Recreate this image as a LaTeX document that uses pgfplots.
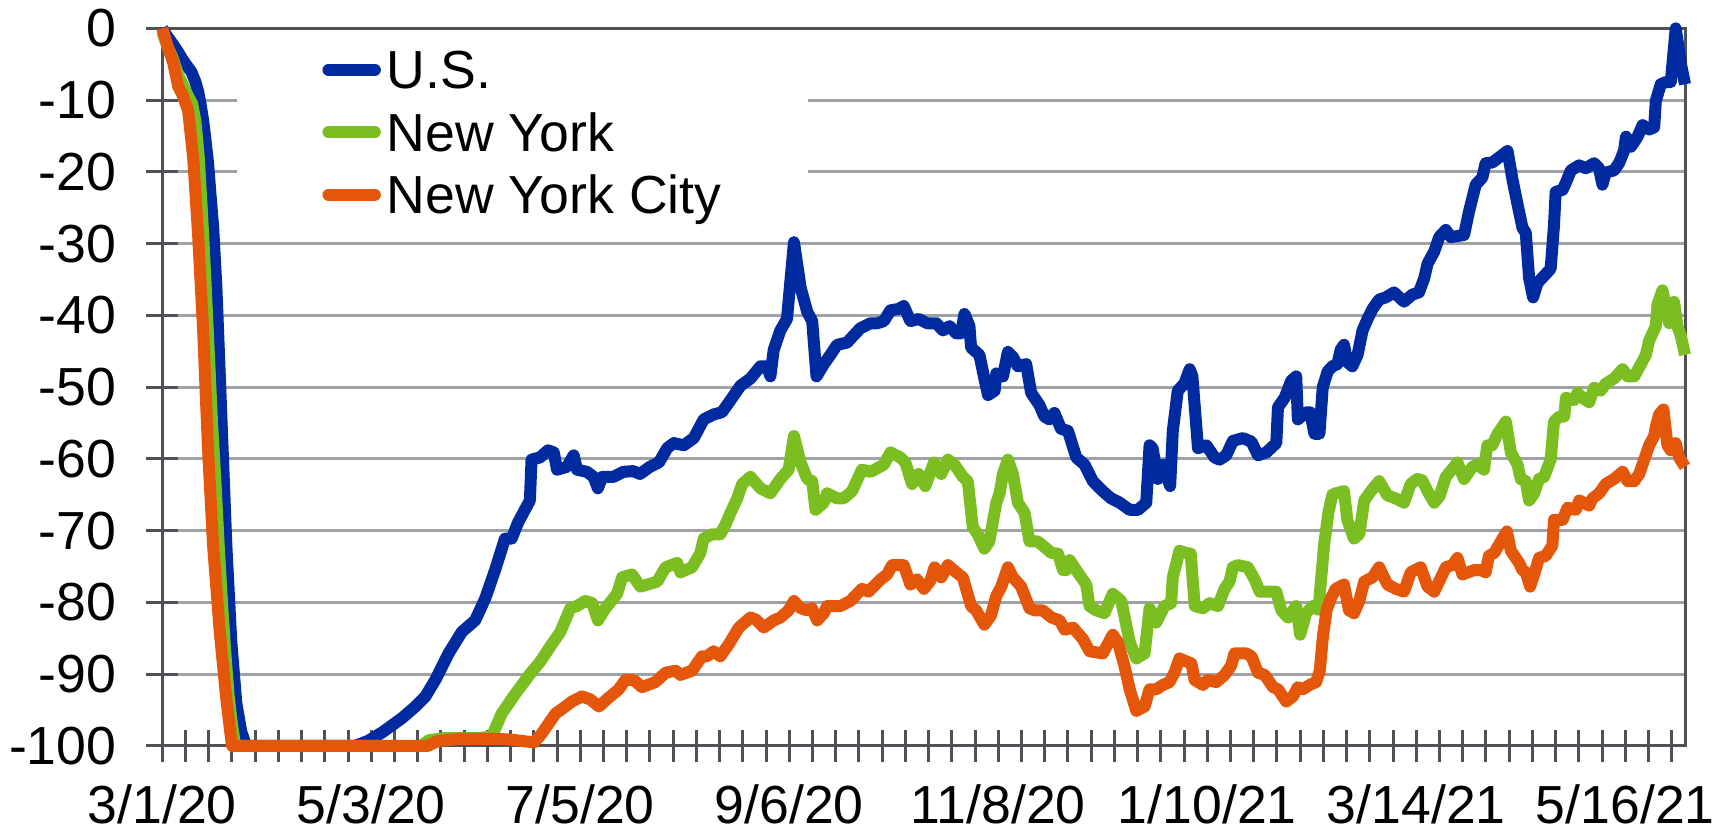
\documentclass[border=0pt]{standalone}
\usepackage{pgfplots}
\usepackage{pgfplotstable}
\pgfplotsset{compat=1.18}
\usepackage{fontspec}
\setmainfont{Liberation Sans}
\definecolor{usblue}{RGB}{0,42,160}
\definecolor{nygreen}{RGB}{122,190,34}
\definecolor{nycorange}{RGB}{228,87,10}
\definecolor{axisgray}{RGB}{78,82,86}
\definecolor{gridgray}{RGB}{158,162,166}

\pgfplotstableread{
d v
0 0
1 -0.8
3 -2.1
5 -3.5
6.3 -4.5
8 -5.6
8.8 -6.1
10 -7.5
10.8 -8.8
11.5 -10.5
12.3 -12.8
13 -15.5
13.8 -18.8
14.5 -23
15.3 -27.5
16.3 -36
17.3 -48
18.3 -60
19.3 -72
20.8 -85.5
22.3 -94
23.8 -98
25.3 -100
58 -100
62 -99.3
66.3 -98.1
72.3 -96.1
76.3 -94.5
79.3 -93.1
82.3 -90.8
86.3 -87.1
90.3 -84.1
94.3 -82.5
97.3 -79.5
100.3 -75.5
103.3 -71.1
105.3 -71.1
107.3 -68.8
110.8 -65.8
111.3 -60.1
113.8 -59.8
116.3 -58.8
118 -59.1
119 -61.5
122 -61.1
124 -59.5
125 -61.5
128 -61.8
130 -62.5
131.3 -64.1
132.6 -62.5
136 -62.5
139 -61.8
142 -61.7
144 -62.1
147 -61.1
149.7 -60.5
152.2 -58.5
154.2 -57.8
157.2 -58.1
160.2 -57.1
163.2 -54.5
166.2 -53.8
168.7 -53.5
171.3 -51.8
174.3 -49.8
177.3 -48.8
180.3 -47.1
182.3 -47.1
183.3 -48.5
184.3 -44.8
186.3 -42.1
188.3 -40.5
190.4 -29.8
192.4 -36.1
194.4 -39.5
195.9 -40.8
197.2 -48.5
199.4 -46.8
201.4 -45.5
203.4 -44.1
206.4 -43.8
208.4 -42.8
210.4 -41.8
213.5 -41.1
215.5 -41.1
217.5 -40.8
219.5 -39.3
222 -39.1
223.5 -38.7
225.5 -40.8
228 -40.5
230.6 -41.1
233.3 -41.1
235.3 -42.1
237.3 -41.5
239.3 -42.5
240.8 -42.5
241.8 -39.8
243.3 -41.5
243.8 -44.5
246.3 -45.5
247.8 -48.8
248.9 -51.1
250.9 -50.5
251.4 -48.1
253.4 -48.5
254.9 -45.1
256.4 -45.8
257.9 -47.1
260.4 -46.8
261.9 -50.8
264.4 -52.5
265.9 -54.1
267.4 -54.5
268.9 -53.6
270.9 -55.8
273 -56.1
275.5 -59.8
278 -60.8
280.5 -63.1
283.5 -64.5
286 -65.5
288.6 -66.1
291.6 -67.1
294.1 -67.1
296.6 -66.1
297.6 -58.1
298.5 -58.5
300.1 -62.8
301.6 -60.8
303.8 -63.8
304.6 -56.1
306.1 -50.5
308.1 -49.5
309.7 -47.5
310.5 -48.5
312.2 -58.5
314.7 -58.1
317.2 -59.8
318.7 -60.1
320.7 -59.5
322.7 -57.5
325.7 -57.1
328.3 -57.6
330.3 -59.5
332.8 -59.1
335.8 -57.8
336.3 -52.8
338.3 -51.5
340.3 -49.1
341.8 -48.5
342.3 -54.5
344.8 -53.5
346 -53.5
347.3 -56.5
348.8 -56.5
349.8 -50
351.3 -47.8
352.7 -47.1
354.2 -46.8
355.2 -44.8
356.2 -44.1
357.2 -46.5
358.7 -47.1
360.3 -45.5
361.8 -42.1
363.3 -40.5
364.8 -39.1
366.8 -37.8
368.8 -37.5
371.3 -36.8
374.3 -38.1
376.8 -37.1
378.8 -36.8
380.4 -34.8
381.4 -32.8
383.4 -31.1
384.9 -29.1
386.9 -28.1
388.4 -29.1
392.4 -28.8
393.9 -25.5
395.9 -21.8
397.9 -20.8
398.9 -18.8
400.9 -18.7
403.5 -17.8
405.5 -17.1
407 -21.1
408.5 -24.5
410 -27.8
411 -28.5
412 -34.8
413.2 -37.5
414.5 -35.5
416.5 -34.5
418.5 -33.5
419.5 -27.5
420 -22.8
422.1 -22.5
423.1 -21.5
424.6 -19.8
427.1 -19.1
429.1 -19.5
431.6 -18.8
433.1 -19.5
434.1 -21.8
435.1 -20.1
437.6 -19.8
439.1 -18.8
440.6 -17.1
441.2 -15.1
442.7 -16.5
444.7 -15.1
446.2 -13.5
448.2 -14.1
449.7 -13.8
450.2 -10.1
451.7 -7.8
453.2 -7.5
454.7 -7.5
456.2 0
457.7 -4.8
459 -7.8
}\usdata

\pgfplotstableread{
d v
0 -0.5
1.5 -2.5
3 -4
4.8 -6.5
6.3 -8
7.8 -9.5
9 -10.5
10 -13
11 -18
12 -26
13 -35
14 -45
15 -55
16 -63
17 -72
18 -80
19 -87
20 -93
21 -97
22 -100
78 -100
80.3 -99.2
85 -98.9
95 -98.9
99.3 -98.7
102.3 -95.5
106.3 -92.8
110.8 -90
114 -88.2
117 -86.1
120 -84.1
123 -80.8
125 -80.5
127.5 -79.8
129.6 -80.1
131.3 -82.5
133.6 -80.8
137.1 -78.8
138.6 -76.5
141.6 -76.1
144.1 -77.8
149.2 -77.1
151.7 -75.1
155.2 -74.5
156.2 -75.8
159.7 -75.1
162.2 -73.1
163.2 -71.1
165.7 -70.5
168.2 -70.5
169.8 -69.1
171.3 -67.5
173.3 -65.5
174.8 -63.5
177.3 -62.5
180.3 -64.1
183.3 -64.8
184.8 -63.8
186.3 -62.8
188.8 -61.5
190.4 -56.8
192.4 -60.5
194.4 -62.8
195.9 -63.1
196.9 -67.1
199.4 -66.1
200.4 -64.8
203.4 -65.5
205.4 -65.5
207.9 -64.5
210.9 -61.5
213.5 -61.8
217.5 -60.8
219.5 -59.1
222.5 -59.8
224 -60.5
226 -63.5
228 -62.1
230 -63.8
232.6 -60.5
234.8 -62.1
236.8 -60.1
238.8 -60.8
241.3 -62.5
242.8 -63.1
244.3 -69.5
245.8 -70.5
247.8 -72.5
249.3 -71.5
251.4 -66.1
252.4 -64.8
253.4 -62.1
254.9 -60.1
256.4 -62.1
257.9 -66.1
259.9 -67.5
261.4 -71.5
263.9 -71.5
266.5 -72.5
268 -73.1
270 -73.2
271.5 -75.5
272.5 -75.5
273.5 -74.1
275.5 -75.5
278.5 -77.5
279.5 -80.5
281.5 -81.1
284 -81.5
286.5 -78.8
289.1 -79.8
291.6 -85.5
293.6 -87.8
296.1 -87.1
297.6 -80.8
299.6 -82.8
302.1 -80.5
304.1 -80.1
304.6 -76.5
306.6 -72.8
308.6 -73.1
310 -73.2
311.2 -80.5
313.7 -80.8
315.7 -80.1
318.2 -80.5
320.2 -78.1
321.7 -77.1
322.7 -75.1
324.2 -74.8
327.2 -75.1
329.3 -76.8
330.8 -78.5
333.8 -78.5
335.8 -78.5
337.3 -81.1
339.3 -82.1
341.8 -80.5
343 -84.5
344.8 -81.5
346.8 -80.5
348.5 -81
350.2 -72
351.5 -67.5
352.7 -65
353.7 -64.8
356.2 -64.5
357.2 -68.5
359.2 -71.1
360.8 -70.5
362.3 -65.8
364.3 -64.5
366.8 -63.1
369.3 -65.1
371.8 -65.5
374.3 -66.1
376.3 -63.5
378.3 -62.8
379.8 -63
381.4 -64.5
383.4 -66.1
385 -65.2
386.9 -62.5
389.4 -61.1
390.4 -60.5
392.4 -62.8
394.9 -61.1
396.4 -60.8
398.4 -61.5
399.4 -58.1
400.9 -58.1
402.5 -56.5
404 -55.5
405 -54.8
406.5 -59.1
408.5 -60.8
409.5 -62.8
411 -63.1
412 -65.8
413.5 -64.8
415 -62.8
416.5 -62.5
418.5 -60.1
419.5 -54.8
421.1 -54.1
422.6 -54.1
423.1 -51.5
425.6 -51.8
426.6 -50.8
428.1 -51.5
430.1 -52.1
431.6 -50.1
433.6 -50.5
435.1 -49.5
437.6 -48.8
440.2 -47.5
441.7 -48.5
443.7 -48.5
445.7 -46.8
447.2 -45.5
448.2 -43.5
450.2 -41.5
450.7 -38.5
452.2 -36.5
453.2 -38.8
454.2 -41.1
455.7 -38.1
456.7 -41.5
457.7 -42.8
459 -45.5
}\nydata

\pgfplotstableread{
d v
0 0
1.8 -2.8
3.3 -4.8
4.8 -8.1
6.3 -9.5
7.8 -11.5
9.3 -18
10.8 -28.8
12.3 -42
13.8 -58.8
15.3 -72
17.3 -84
19.3 -93.5
21 -100
80 -100
83 -99.3
90 -99
100 -99
105 -99.1
112 -99.5
114 -98.5
116 -97.2
118.5 -95.5
121.5 -94.5
123.5 -93.8
126.5 -93.1
129 -93.5
131.6 -94.5
134 -93.5
137.6 -92.1
139.6 -90.8
142.1 -90.8
144.6 -91.8
148.6 -91.1
151.7 -89.8
154.7 -89.5
156.2 -90.1
159.7 -89.5
162.7 -87.5
164.2 -87.5
166.2 -86.8
168.2 -87.5
170.8 -85.8
173.8 -83.5
177.3 -82.1
179 -82.4
181.3 -83.5
184.3 -82.5
186.3 -82.1
188.8 -81.1
190.4 -79.8
192.4 -80.8
194.4 -81.1
195.8 -80.8
197.4 -82.5
199.4 -81.5
200.4 -80.5
204.4 -80.5
207.4 -79.8
210.9 -78.1
212.9 -78.5
216.5 -76.8
218.5 -76.1
220 -74.8
223.5 -74.8
225.5 -77.5
227.5 -76.8
229.6 -78.1
231.5 -77
232.8 -75.1
234.8 -76.5
236.8 -74.8
239.3 -75.8
241.3 -76.5
243.8 -80.5
245.3 -81.1
247.8 -83.1
249.8 -81.8
251.4 -79.1
252.9 -77.8
254.9 -75.1
256.4 -76.5
258.9 -77.8
261.4 -80.8
262.9 -81.1
265.4 -81.1
268 -82.1
270.5 -82.5
272 -83.8
274.5 -83.5
277.5 -85.1
279.5 -86.8
283.5 -87.1
286.5 -84.5
288 -85.5
290 -88.8
291.6 -92.1
293.6 -95.1
296.1 -94.5
297.6 -92.1
299.6 -92.1
301.6 -91.5
303.6 -91.1
305.1 -89.8
306.6 -87.8
308.1 -88.1
310.2 -88.5
311.2 -90.8
313.7 -91.5
315.2 -90.8
317.7 -91.1
320.2 -90.1
322.2 -88.8
323.2 -87.1
326.7 -87.1
328.3 -87.5
330.3 -89.8
332.3 -90.1
334.8 -91.8
336.3 -92.1
338.8 -93.8
340.8 -93.1
342.3 -91.8
343.8 -92.1
345.8 -91.5
347.8 -91.1
348.9 -89.5
349.9 -84.5
351 -81
352.2 -79.5
353.7 -78.1
356.2 -77.5
357.7 -81.1
359.2 -81.5
360.8 -79.8
362.3 -77.1
364.8 -76.5
366.8 -75.1
369.3 -77.5
371.8 -78.1
374.3 -78.5
376.3 -75.8
379.3 -75.1
381.4 -77.8
383.4 -78.5
386.9 -75.1
388.9 -74.8
390.4 -73.8
391.9 -76.1
395.4 -75.5
397.5 -75.5
398.9 -75.8
399.9 -73.5
401.5 -73.1
404 -71.1
405.3 -70.1
406.5 -72.8
409 -74.5
410 -75.5
411 -75.8
412.3 -77.8
413.5 -76.1
415 -73.8
417 -73.5
419 -72.1
419.5 -68.5
422.1 -68.5
423.6 -66.8
426.1 -67.1
427.1 -65.8
430.1 -66.5
431.1 -65.5
433.1 -64.8
435.1 -63.5
437.6 -62.8
440.2 -61.8
441.7 -63.1
443.7 -63.1
445.2 -62.1
446.7 -60.1
448.2 -58.1
449.7 -56.8
450.2 -55.5
451.2 -53.8
452.5 -53.1
453.7 -58.1
454.7 -58.8
456.2 -57.8
457.2 -59.8
459 -61.1
}\nycdata

\begin{document}
\begin{tikzpicture}
\path[use as bounding box] (-40.575pt,-21.5pt) rectangle (390.175pt,186.5pt);
\begin{axis}[
  at={(0pt,0pt)}, anchor=south west,
  width=380.675pt, height=179.425pt, scale only axis,
  xmin=0, xmax=459, ymin=-100, ymax=0,
  clip=false,
  axis line style={axisgray, line width=0.75pt},
  tick pos=left,
  tick align=center,
  major tick length=8pt, minor tick length=8pt,
  tick style={axisgray, line width=0.75pt},
  xtick={0,63,...,441},
  xticklabels={3/1/20,5/3/20,7/5/20,9/6/20,11/8/20,1/10/21,3/14/21,5/16/21},
  minor xtick={7,14,...,455},
  ytick={-100,-90,...,0},
  yticklabels={-100,-90,-80,-70,-60,-50,-40,-30,-20,-10,0},
  ymajorgrids,
  major grid style={gridgray, line width=0.75pt},
  tick label style={font=\fontsize{13.4}{16}\selectfont},
  xticklabel style={anchor=base, inner sep=0pt, yshift=-15.5pt},
  yticklabel style={anchor=east, inner sep=0pt, xshift=-7.3pt},
  legend cell align=left,
  legend style={at={(0.1052,0.9745)}, anchor=north west, draw=none, fill=none,
    inner sep=0pt, outer sep=0pt, row sep=0pt,
    font=\fontsize{13.4}{16}\selectfont,
    nodes={inner xsep=1.5pt, inner ysep=0pt, text height=10.6pt, text depth=5pt}},
  legend image code/.code={\draw[#1, line cap=round] (0pt,2pt) -- (11.6pt,2pt);},
]
\fill[white] (axis cs:22.5,-1.5) rectangle (axis cs:194.6,-28);
\addplot[usblue, line width=3pt, line join=round, no markers] table[x=d, y=v] {\usdata};
\addlegendentry{U.S.}
\addplot[nygreen, line width=3pt, line join=round, no markers] table[x=d, y=v] {\nydata};
\addlegendentry{New York}
\addplot[nycorange, line width=3pt, line join=round, no markers] table[x=d, y=v] {\nycdata};
\addlegendentry{New York City}
\end{axis}
\end{tikzpicture}
\end{document}
